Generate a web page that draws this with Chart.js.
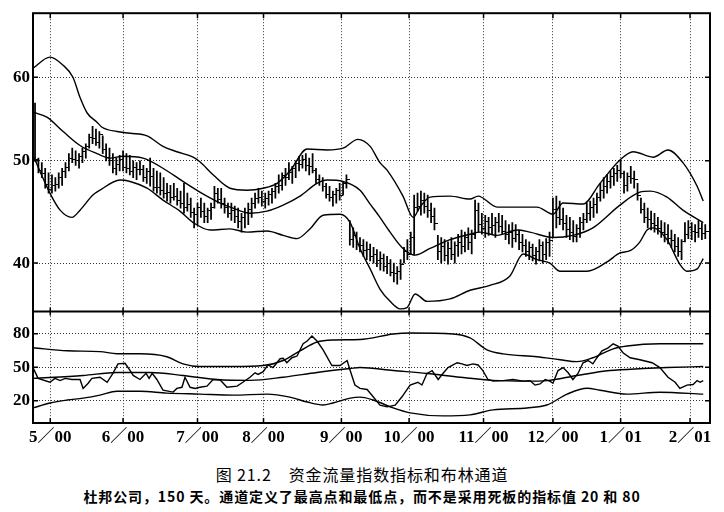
<!DOCTYPE html>
<html lang="zh">
<head>
<meta charset="UTF-8">
<title>资金流量指数指标和布林通道</title>
<script src="https://cdn.jsdelivr.net/npm/chart.js"></script>
<style>
  body { margin: 0; background: #fff; }
  .wrap { position: relative; width: 724px; height: 512px; }
  #chart { position: absolute; left: 0; top: 0; }
  .cap { position: absolute; left: 0; width: 724px; text-align: center; color: #000; font-family: "Noto Sans CJK SC", sans-serif; white-space: nowrap; }
  .cap1 { top: 464px; font-size: 16px; line-height: 20px; letter-spacing: 0.9px; }
  .cap2 { top: 487px; font-size: 14px; line-height: 18px; font-weight: bold; letter-spacing: 0.9px; }
</style>
</head>
<body>
<div class="wrap">
  <canvas id="chart" width="724" height="460"></canvas>
  <div class="cap cap1">图 21.2　资金流量指数指标和布林通道</div>
  <div class="cap cap2">杜邦公司，150 天。通道定义了最高点和最低点，而不是采用死板的指标值 20 和 80</div>
</div>
<script>
// x axis: trading day number, month labels at the first day of each month
const monthLabels = ['5／00', '6／00', '7／00', '8／00', '9／00', '10／00', '11／00', '12／00', '1／01', '2／01'];
const monthStarts = [4.5, 26, 48, 67.5, 90.5, 110.5, 132.5, 153, 173, 193.5];
const priceTicks = [40, 50, 60];
const mfiTicks = [20, 50, 80];

// daily high / low / close of the price bars
const priceHigh = [
  56.7, 50.3, 49.8, 49.2, 48.7, 48.5, 48.2, 48.7, 49.2, 49.8,
  50.8, 51.4, 51.1, 50.8, 51.4, 51.9, 53.0, 53.9, 53.6, 53.3,
  52.8, 51.9, 51.4, 50.8, 50.3, 50.6, 51.1, 50.8, 50.6, 50.0,
  49.8, 50.0, 49.5, 49.2, 50.3, 49.2, 48.9, 48.7, 48.2, 47.6,
  47.4, 47.6, 47.1, 46.8, 47.6, 46.6, 46.1, 45.1, 45.6, 46.1,
  45.6, 45.1, 45.6, 47.3, 47.1, 47.1, 46.1, 45.6, 45.6, 45.3,
  45.1, 44.6, 45.1, 45.6, 46.1, 46.6, 47.1, 46.8, 46.6, 46.8,
  47.1, 47.6, 48.5, 48.7, 49.2, 49.8, 49.4, 50.0, 50.5, 50.6,
  50.8, 50.3, 50.8, 49.2, 48.5, 48.2, 47.6, 47.3, 46.8, 47.1,
  47.6, 47.8, 48.5, 43.9, 43.2, 42.8, 42.3, 42.1, 41.9, 41.7,
  41.4, 41.2, 41.0, 40.8, 40.6, 40.3, 40.0, 39.7, 40.3, 41.4,
  42.1, 42.8, 46.4, 46.6, 46.8, 46.6, 46.4, 45.6, 45.1, 42.5,
  42.3, 42.1, 41.9, 42.3, 41.9, 42.6, 43.0, 42.8, 43.2, 43.0,
  45.9, 45.6, 44.6, 44.4, 44.2, 44.6, 44.2, 44.6, 44.4, 43.9,
  43.5, 43.7, 43.5, 43.0, 42.6, 42.1, 41.9, 41.7, 41.4, 42.1,
  41.9, 42.2, 42.8, 46.1, 46.3, 45.8, 45.1, 44.4, 44.2, 43.9,
  43.5, 44.2, 44.6, 45.6, 45.8, 46.1, 46.6, 47.6, 48.2, 48.5,
  48.9, 49.2, 49.5, 50.0, 48.9, 48.7, 49.4, 48.9, 47.6, 46.1,
  45.6, 45.1, 44.8, 44.6, 44.2, 43.9, 43.7, 43.5, 43.0, 42.6,
  42.3, 42.1, 43.7, 43.9, 43.7, 43.5, 43.9, 43.7, 43.5
];
const priceLow = [
  50.0, 48.7, 48.2, 47.1, 46.6, 46.6, 46.8, 47.1, 47.4, 48.2,
  48.9, 49.8, 49.5, 49.2, 49.8, 50.3, 51.4, 51.9, 51.7, 51.4,
  50.8, 50.0, 49.5, 48.7, 48.5, 48.9, 48.9, 48.7, 48.5, 48.2,
  48.0, 48.5, 47.8, 47.6, 47.3, 46.8, 46.6, 46.4, 46.1, 45.8,
  45.6, 45.9, 45.4, 45.1, 44.6, 44.8, 44.2, 43.2, 43.5, 44.2,
  43.7, 43.7, 44.0, 45.1, 45.6, 45.1, 44.6, 44.2, 43.9, 43.7,
  43.2, 42.8, 43.2, 43.5, 44.2, 45.1, 45.6, 45.3, 45.1, 45.4,
  45.6, 46.1, 46.6, 46.9, 47.4, 48.0, 47.6, 48.2, 48.9, 49.2,
  48.9, 48.5, 48.7, 47.6, 47.4, 46.8, 46.1, 45.8, 45.3, 45.6,
  45.9, 46.4, 47.1, 41.6, 41.4, 41.2, 41.0, 40.6, 40.3, 40.2,
  40.0, 39.7, 39.4, 39.3, 39.1, 38.9, 38.4, 38.2, 38.6, 40.0,
  40.3, 40.8, 40.7, 44.8, 44.4, 44.6, 44.2, 43.7, 43.0, 40.3,
  40.0, 40.2, 39.9, 40.3, 40.0, 40.6, 40.8, 41.0, 41.2, 40.8,
  42.2, 42.8, 42.6, 42.3, 42.5, 42.6, 42.3, 42.8, 42.6, 42.1,
  41.7, 41.4, 41.9, 41.2, 41.0, 40.6, 40.3, 40.2, 39.9, 40.2,
  40.0, 40.3, 40.6, 42.3, 43.2, 43.5, 43.0, 42.3, 42.1, 41.9,
  41.9, 42.3, 43.0, 43.7, 43.9, 44.2, 44.6, 45.8, 46.1, 46.6,
  47.1, 47.4, 47.8, 48.2, 46.6, 46.8, 47.6, 47.1, 45.9, 44.6,
  43.7, 43.2, 43.0, 42.8, 42.6, 42.3, 41.9, 41.7, 41.4, 41.0,
  40.6, 40.3, 41.9, 42.2, 42.1, 41.9, 42.3, 42.1, 42.2
];
const priceClose = [
  50.2, 49.0, 48.6, 47.5, 47.0, 47.4, 47.5, 48.2, 48.8, 49.3,
  50.3, 50.2, 50.0, 50.5, 51.0, 51.6, 52.6, 52.5, 52.0, 52.9,
  51.3, 50.4, 50.0, 49.2, 49.6, 50.2, 49.3, 49.2, 48.9, 49.3,
  49.1, 49.1, 48.2, 48.9, 48.3, 47.2, 47.2, 46.9, 46.6, 46.7,
  46.2, 46.3, 45.9, 45.6, 45.2, 45.5, 44.7, 44.5, 45.2, 44.8,
  44.3, 44.9, 45.2, 46.6, 46.0, 45.6, 45.2, 44.6, 44.9, 44.3,
  43.8, 44.2, 44.7, 45.0, 45.6, 46.1, 46.2, 45.8, 46.1, 46.5,
  46.8, 47.3, 47.4, 48.4, 48.2, 48.7, 49.2, 49.7, 49.6, 50.1,
  49.5, 49.4, 49.0, 48.0, 47.8, 47.3, 46.5, 46.2, 46.5, 46.9,
  46.4, 47.6, 48.0, 42.1, 42.5, 41.7, 41.6, 41.1, 41.2, 40.6,
  40.8, 40.2, 40.4, 39.7, 40.0, 39.2, 39.1, 39.3, 39.9, 41.0,
  40.8, 42.3, 45.2, 45.3, 45.9, 45.3, 44.9, 44.3, 43.6, 41.0,
  41.5, 40.7, 41.3, 40.8, 41.6, 41.8, 41.5, 42.3, 41.8, 42.6,
  44.9, 43.5, 43.1, 43.8, 43.2, 43.4, 43.7, 43.3, 42.9, 42.6,
  42.8, 42.2, 42.6, 41.8, 41.6, 41.0, 41.4, 40.7, 41.0, 41.6,
  40.8, 41.8, 42.0, 45.0, 44.2, 44.0, 43.6, 43.0, 42.8, 42.4,
  43.1, 43.7, 44.0, 44.6, 45.2, 45.5, 46.2, 46.9, 47.3, 47.8,
  48.3, 48.6, 49.0, 48.6, 47.4, 48.3, 48.1, 48.0, 46.4, 45.0,
  44.2, 44.0, 43.6, 43.4, 43.1, 42.8, 42.6, 42.2, 42.0, 41.5,
  41.0, 41.9, 42.6, 43.2, 42.9, 42.8, 43.1, 42.7, 42.9
];

// Bollinger bands on price (day, value)
const bbUpX = [-0.6, 4.4, 8.3, 11.2, 13.3, 15.4, 18.3, 19.8, 24.2, 28.1, 33.1, 37.8, 41.9, 46.7, 48.7, 52.6, 57.6, 62.6, 67.4, 71.5, 75.3, 80.4, 86.3, 91.0, 95.4, 99.0, 101.9, 104.0, 108.7, 111.7, 113.7, 116.7, 122.6, 128.5, 130.9, 136.5, 142.4, 148.3, 153.0, 156.0, 161.9, 166.9, 172.8, 176.7, 182.6, 187.0, 191.4, 195.6, 197.4];
const bbUpY = [61.2, 62.7, 61.6, 60.0, 57.4, 55.5, 54.4, 53.8, 53.3, 53.1, 52.8, 51.6, 51.0, 50.4, 49.9, 48.5, 47.1, 46.9, 47.1, 47.6, 48.9, 51.3, 51.2, 51.4, 52.4, 51.6, 49.8, 49.0, 46.3, 44.2, 45.2, 46.2, 46.3, 46.0, 46.3, 45.2, 45.2, 45.2, 44.5, 45.6, 45.5, 47.6, 50.1, 51.0, 50.4, 51.2, 49.8, 47.3, 45.8];
const bbMidX = [-0.6, 3.5, 8.3, 13.3, 18.3, 22.2, 26.0, 31.9, 37.8, 43.7, 48.7, 54.7, 58.5, 63.5, 68.5, 73.3, 78.3, 83.3, 86.3, 91.0, 96.0, 99.0, 101.9, 104.9, 108.7, 112.3, 116.7, 122.6, 128.5, 131.5, 136.5, 142.4, 146.2, 153.0, 158.9, 164.8, 172.8, 178.7, 181.7, 186.7, 191.4, 197.4];
const bbMidY = [55.6, 55.0, 53.3, 51.7, 50.8, 50.3, 50.5, 50.3, 49.2, 47.8, 46.7, 45.6, 45.1, 44.6, 44.8, 45.4, 46.3, 47.6, 47.95, 47.8, 46.9, 45.5, 44.2, 42.8, 41.3, 40.7, 41.3, 42.1, 42.6, 42.8, 42.5, 43.0, 42.8, 42.3, 42.5, 43.2, 45.4, 46.7, 46.8, 46.2, 44.9, 43.7];
const bbLowX = [-0.6, 4.4, 7.4, 10.9, 13.3, 17.1, 19.2, 25.1, 28.1, 33.1, 37.8, 42.8, 46.7, 51.7, 57.6, 62.6, 68.5, 73.3, 77.4, 81.2, 85.1, 90.1, 93.1, 96.0, 99.0, 101.9, 104.9, 107.9, 109.9, 112.3, 115.8, 122.6, 128.5, 134.4, 140.3, 144.2, 148.3, 152.1, 155.1, 163.1, 169.0, 172.8, 175.8, 178.7, 180.8, 182.6, 186.7, 190.5, 192.6, 195.6, 197.4];
const bbLowY = [50.6, 46.6, 44.9, 44.2, 44.9, 46.4, 46.9, 47.95, 47.8, 47.1, 45.9, 44.8, 43.7, 43.0, 43.1, 42.8, 42.9, 42.5, 42.2, 43.1, 44.4, 44.5, 43.7, 41.3, 39.5, 37.8, 36.8, 36.2, 36.3, 37.4, 36.8, 37.0, 37.7, 38.1, 38.9, 40.8, 40.3, 40.0, 39.3, 39.3, 40.1, 40.9, 41.1, 41.9, 43.0, 43.2, 42.1, 39.9, 39.3, 39.5, 40.4];

// money flow index and its bands
const mfiX = [-0.6, 0.9, 4.4, 5.9, 7.4, 8.9, 10.9, 13.3, 14.2, 15.7, 16.8, 19.2, 21.3, 23.0, 24.5, 26.6, 28.1, 29.0, 31.0, 32.8, 33.7, 34.6, 36.0, 37.8, 40.8, 41.9, 43.4, 44.3, 45.8, 47.3, 48.7, 50.8, 52.6, 54.7, 56.7, 59.7, 61.4, 63.5, 65.0, 65.9, 67.4, 68.8, 70.3, 72.4, 73.3, 74.4, 75.9, 77.4, 79.2, 80.4, 81.8, 83.3, 85.1, 87.7, 90.1, 92.2, 93.1, 94.5, 96.0, 98.1, 99.9, 101.9, 104.0, 106.4, 108.4, 110.8, 113.1, 114.3, 115.8, 117.3, 119.1, 120.5, 122.0, 124.7, 126.1, 127.6, 129.4, 130.9, 132.3, 133.8, 135.3, 138.3, 141.2, 144.2, 146.2, 147.7, 149.2, 150.7, 152.1, 153.0, 154.5, 156.0, 157.5, 158.9, 160.4, 161.9, 163.4, 164.8, 166.0, 167.5, 169.3, 170.8, 172.2, 173.7, 175.8, 178.7, 182.3, 184.6, 187.0, 189.1, 190.5, 192.6, 194.4, 195.6, 196.5, 197.4];
const mfiY = [49.7, 40, 36.5, 40, 38, 40, 39, 39, 31, 35.6, 40, 41, 36.5, 44.5, 53, 53.5, 47, 42.6, 39, 44.5, 40, 44.5, 39, 29.5, 27.7, 31, 32, 41, 32, 31, 32, 33, 39, 38.5, 32, 33, 36.5, 41, 45, 43.5, 46, 52, 49.7, 57.6, 58, 54, 58.5, 60, 71, 73.5, 78, 73.5, 65.6, 51.5, 51.5, 56, 47, 34, 31, 30, 23.5, 16, 14.5, 16, 23.5, 34, 36.5, 34, 44.4, 47, 39, 44.4, 49.7, 54, 53, 51.5, 53, 52, 47, 39, 37.5, 38, 39, 37.5, 38, 34, 35, 39, 37.5, 35.6, 47, 49.7, 45, 39, 44.4, 54, 56, 53, 58.5, 64.7, 67.4, 71, 69, 63, 58.5, 56.7, 54, 49.7, 41, 36.5, 31, 34, 34.5, 38, 36.5, 38];
const mfiUpX = [-0.6, 9.5, 19.2, 24.2, 31, 38.9, 43.7, 48.7, 58.5, 67.4, 73.3, 78.3, 83.3, 88.0, 96, 105.8, 110.8, 123.5, 128.5, 133.5, 138.3, 148.3, 155.1, 160.1, 164.8, 170.8, 174.9, 184.6, 197.4];
const mfiUpY = [67.4, 64.7, 64, 62, 62, 59.4, 53, 50.6, 50.6, 51.5, 56, 64.7, 72.6, 74.4, 74.8, 79.7, 80.6, 79.7, 76.2, 65.6, 62, 59.4, 56.7, 55, 58.5, 66.5, 69, 71, 71];
const mfiMidX = [-0.6, 14.2, 24.2, 34.0, 43.7, 53.8, 63.5, 73.3, 83.3, 93.1, 96, 105.8, 115.8, 125.6, 135.3, 145.3, 151.2, 160.1, 169.8, 179.6, 186.7, 197.4];
const mfiMidY = [40, 42.6, 45.3, 45.3, 42.6, 39, 38.2, 41, 45.3, 48.8, 49.7, 47, 44.4, 41, 38.2, 37.5, 38, 42.6, 47, 48.8, 49.7, 50.6];
const mfiLowX = [-0.6, 4.4, 9.5, 14.2, 19.2, 24.2, 31, 38.9, 48.7, 58.5, 68.5, 75.3, 80.4, 85.1, 88.0, 93.1, 96, 99.9, 105.8, 110.8, 120.5, 128.5, 135.3, 145.3, 151.2, 157.2, 163.1, 166.9, 174.9, 184.6, 197.4];
const mfiLowY = [13.5, 17.9, 20.6, 22.3, 25, 28.5, 28.5, 26.8, 25.9, 25, 25.9, 23.2, 18.8, 16.1, 17.9, 22.3, 23.2, 20.6, 13.5, 9.1, 6.4, 7.3, 11.8, 13.5, 16.1, 25.9, 31.2, 29.4, 25.9, 27.6, 25.9];

const pts = (xs, ys) => xs.map((x, i) => ({ x: x, y: ys[i] }));
const bars = priceHigh.map((h, i) => ({ x: i, y: [priceLow[i], h] }));
const closes = priceClose.map((c, i) => ({ x: i, y: c }));

// close tick: a short dash on the right side of the bar
const closeTick = document.createElement('canvas');
closeTick.width = 7;
closeTick.height = 1;
const tctx = closeTick.getContext('2d');
tctx.fillStyle = '#000';
tctx.fillRect(4, 0, 3, 1);

const band = (data, axis) => ({
    type: 'line',
    data: data,
    yAxisID: axis,
    borderColor: '#000',
    borderWidth: 1.4,
    pointRadius: 0,
    fill: false,
    cubicInterpolationMode: 'monotone'
});

const labelFont = { family: '"Liberation Serif", "Noto Sans CJK SC", serif', size: 17, weight: 'bold' };
const dotted = { display: false, dash: [1, 2] };
const gridOpts = { color: '#333', lineWidth: 1, drawTicks: false };

// frame, panel divider and the short inward tick marks
const framePlugin = {
    id: 'frame',
    afterDraw(chart) {
        const { ctx, chartArea: a, scales } = chart;
        const top = scales.y, bottom = scales.y2, x = scales.x;
        ctx.save();
        ctx.strokeStyle = '#000';
        ctx.lineWidth = 2;
        ctx.strokeRect(a.left, a.top, a.right - a.left, a.bottom - a.top);
        ctx.beginPath();
        ctx.moveTo(a.left, top.bottom);
        ctx.lineTo(a.right, top.bottom);
        ctx.stroke();

        ctx.lineWidth = 1.5;
        ctx.beginPath();
        monthStarts.forEach(v => {
            const px = x.getPixelForValue(v);
            ctx.moveTo(px, a.top); ctx.lineTo(px, a.top + 5);
            ctx.moveTo(px, top.bottom - 4); ctx.lineTo(px, top.bottom + 4);
            ctx.moveTo(px, a.bottom); ctx.lineTo(px, a.bottom - 5);
        });
        [top, bottom].forEach(s => s.ticks.forEach(t => {
            const py = s.getPixelForValue(t.value);
            ctx.moveTo(a.left, py); ctx.lineTo(a.left + 5, py);
            ctx.moveTo(a.right, py); ctx.lineTo(a.right - 5, py);
        }));
        ctx.stroke();
        ctx.restore();
    }
};

new Chart(document.getElementById('chart'), {
    type: 'line',
    data: {
        datasets: [
            {
                type: 'bar',
                data: bars,
                yAxisID: 'y',
                backgroundColor: '#000',
                borderWidth: 0,
                barThickness: 1.1
            },
            {
                type: 'scatter',
                data: closes,
                yAxisID: 'y',
                pointStyle: closeTick,
                pointRadius: 3,
                showLine: false
            },
            band(pts(bbUpX, bbUpY), 'y'),
            band(pts(bbMidX, bbMidY), 'y'),
            band(pts(bbLowX, bbLowY), 'y'),
            band(pts(mfiUpX, mfiUpY), 'y2'),
            band(pts(mfiMidX, mfiMidY), 'y2'),
            band(pts(mfiLowX, mfiLowY), 'y2'),
            {
                type: 'line',
                data: pts(mfiX, mfiY),
                yAxisID: 'y2',
                borderColor: '#000',
                borderWidth: 1.4,
                pointRadius: 0,
                fill: false,
                tension: 0
            }
        ]
    },
    options: {
        responsive: false,
        animation: false,
        events: [],
        layout: { padding: { top: 8, right: 14, left: 0, bottom: 0 } },
        plugins: {
            legend: { display: false },
            tooltip: { enabled: false }
        },
        scales: {
            x: {
                type: 'linear',
                min: -0.6,
                max: 199.4,
                offset: false,
                afterBuildTicks: s => { s.ticks = monthStarts.map(v => ({ value: v })); },
                afterFit: s => { s.height = 37; },
                grid: Object.assign({ offset: false }, gridOpts),
                border: dotted,
                ticks: {
                    color: '#000',
                    padding: 4,
                    autoSkip: false,
                    maxRotation: 0,
                    font: labelFont,
                    callback: (v, i) => monthLabels[i]
                }
            },
            y: {
                type: 'logarithmic',
                position: 'left',
                stack: 'panels',
                stackWeight: 302,
                weight: 1,
                min: 36,
                max: 69,
                beginAtZero: false,
                afterBuildTicks: s => { s.ticks = priceTicks.map(v => ({ value: v })); },
                afterFit: s => { s.width = 33; },
                grid: gridOpts,
                border: dotted,
                ticks: { color: '#000', padding: 3, font: labelFont, callback: v => String(v) }
            },
            y2: {
                type: 'linear',
                position: 'left',
                stack: 'panels',
                stackWeight: 113,
                weight: 0,
                min: 0,
                max: 100,
                afterBuildTicks: s => { s.ticks = mfiTicks.map(v => ({ value: v })); },
                afterFit: s => { s.width = 33; },
                grid: gridOpts,
                border: dotted,
                ticks: { color: '#000', padding: 3, font: labelFont, callback: v => String(v) }
            }
        }
    },
    plugins: [framePlugin]
});
</script>
</body>
</html>
